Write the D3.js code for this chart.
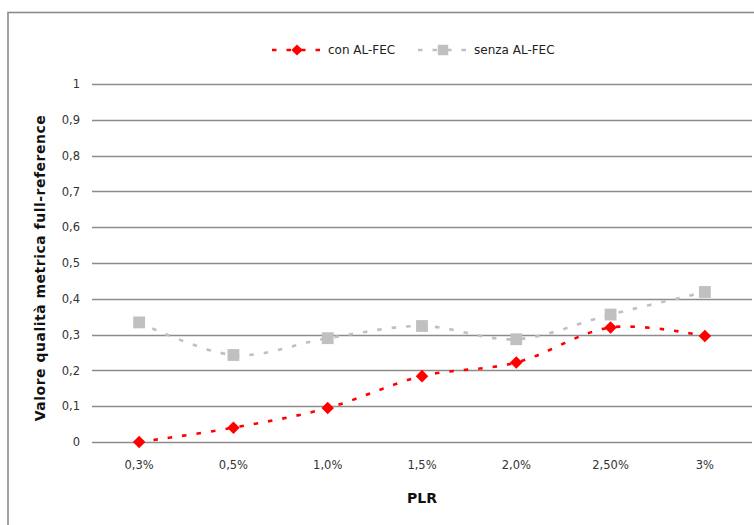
<!DOCTYPE html>
<html>
<head>
<meta charset="utf-8">
<script src="https://cdn.jsdelivr.net/npm/d3@7"></script>
<style>
  html, body { margin: 0; padding: 0; background: #fff; }
  svg { display: block; font-family: "DejaVu Sans", Verdana, sans-serif; }
</style>
</head>
<body>
<svg id="chart" width="754" height="525"></svg>
<script>
// Packet loss rates on the x axis
const categories = ["0,3%", "0,5%", "1,0%", "1,5%", "2,0%", "2,50%", "3%"];
// Full-reference quality metric, with and without AL-FEC
const conALFEC = [0.0, 0.04, 0.095, 0.184, 0.222, 0.32, 0.296];
const senzaALFEC = [0.334, 0.243, 0.29, 0.324, 0.287, 0.356, 0.419];
const yTicks = [0, 0.1, 0.2, 0.3, 0.4, 0.5, 0.6, 0.7, 0.8, 0.9, 1];
const seriesNames = ["con AL-FEC", "senza AL-FEC"];

const svg = d3.select("#chart");
const plot = { left: 92, right: 752, top: 84, bottom: 442 };

// outer frame of the chart area
svg.append("rect")
  .attr("x", 8).attr("y", 12.5)
  .attr("width", 800).attr("height", 600)
  .attr("fill", "none").attr("stroke", "#8a8a8a").attr("stroke-width", 1.6);

const x = d3.scaleBand().domain(categories).range([plot.left, plot.right]);
const y = d3.scaleLinear().domain([0, 1]).range([plot.bottom, plot.top]);

// horizontal gridlines
svg.append("g").selectAll("line").data(yTicks).join("line")
  .attr("x1", plot.left).attr("x2", plot.right)
  .attr("y1", d => Math.round(y(d)) + 0.5).attr("y2", d => Math.round(y(d)) + 0.5)
  .attr("stroke", "#8c8c8c").attr("stroke-width", 1.4);

// y axis labels
const yAxis = d3.axisLeft(y).tickValues(yTicks).tickSize(0).tickPadding(0)
  .tickFormat(d => d3.format(".1~f")(d).replace(".", ","));
const gy = svg.append("g").attr("transform", `translate(${plot.left - 12},0)`).call(yAxis);
gy.select(".domain").remove();
gy.selectAll("text").attr("font-size", 11.5).attr("fill", "#333")
  .attr("font-family", "DejaVu Sans, Verdana, sans-serif");

// x axis labels
const xAxis = d3.axisBottom(x).tickSize(0).tickPadding(0);
const gx = svg.append("g").attr("transform", `translate(0,${plot.bottom + 19})`).call(xAxis);
gx.select(".domain").remove();
gx.selectAll("text").attr("font-size", 11.5).attr("fill", "#333")
  .attr("font-family", "DejaVu Sans, Verdana, sans-serif");

// axis titles
svg.append("text")
  .attr("transform", `translate(45,268) rotate(-90)`)
  .attr("text-anchor", "middle").attr("font-size", 14).attr("font-weight", "bold")
  .attr("letter-spacing", 0.5)
  .attr("fill", "#111").text("Valore qualità metrica full-reference");
svg.append("text")
  .attr("x", (plot.left + plot.right) / 2).attr("y", 503)
  .attr("text-anchor", "middle").attr("font-size", 14).attr("font-weight", "bold")
  .attr("fill", "#111").text("PLR");

const cx = c => x(c) + x.bandwidth() / 2;
const line = d3.line().curve(d3.curveCatmullRom.alpha(0))
  .x((d, i) => cx(categories[i])).y(d => y(d));

const styles = [
  { color: "#ff0000", marker: "diamond", values: conALFEC },
  { color: "#c0c0c0", marker: "square", values: senzaALFEC }
];

// draw lighter series first so the red one sits on top
[1, 0].forEach(k => {
  const s = styles[k];
  svg.append("path").datum(s.values).attr("d", line)
    .attr("fill", "none").attr("stroke", s.color).attr("stroke-width", 2.6)
    .attr("stroke-dasharray", "4.5,10");
  const sym = s.marker === "diamond"
    ? d3.symbol().type(d3.symbolDiamond2).size(100)
    : d3.symbol().type(d3.symbolSquare).size(140);
  svg.append("g").selectAll("path").data(s.values).join("path")
    .attr("d", sym)
    .attr("transform", (d, i) => `translate(${cx(categories[i])},${y(d)})`)
    .attr("fill", s.color);
});

// legend
const legendItems = [
  { x0: 272, tx: 328 },
  { x0: 418, tx: 474 }
];
legendItems.forEach((it, k) => {
  const s = styles[k];
  const g = svg.append("g").attr("transform", "translate(0,50)");
  g.append("line").attr("x1", it.x0).attr("x2", it.x0 + 48)
    .attr("y1", 0).attr("y2", 0)
    .attr("stroke", s.color).attr("stroke-width", 2.6).attr("stroke-dasharray", "4.5,10");
  const sym = s.marker === "diamond"
    ? d3.symbol().type(d3.symbolDiamond2).size(80)
    : d3.symbol().type(d3.symbolSquare).size(110);
  g.append("path").attr("d", sym).attr("transform", `translate(${it.x0 + 25},0)`).attr("fill", s.color);
  g.append("text").attr("x", it.tx).attr("y", 4).attr("font-size", 12).attr("fill", "#222")
    .text(seriesNames[k]);
});
</script>
</body>
</html>
